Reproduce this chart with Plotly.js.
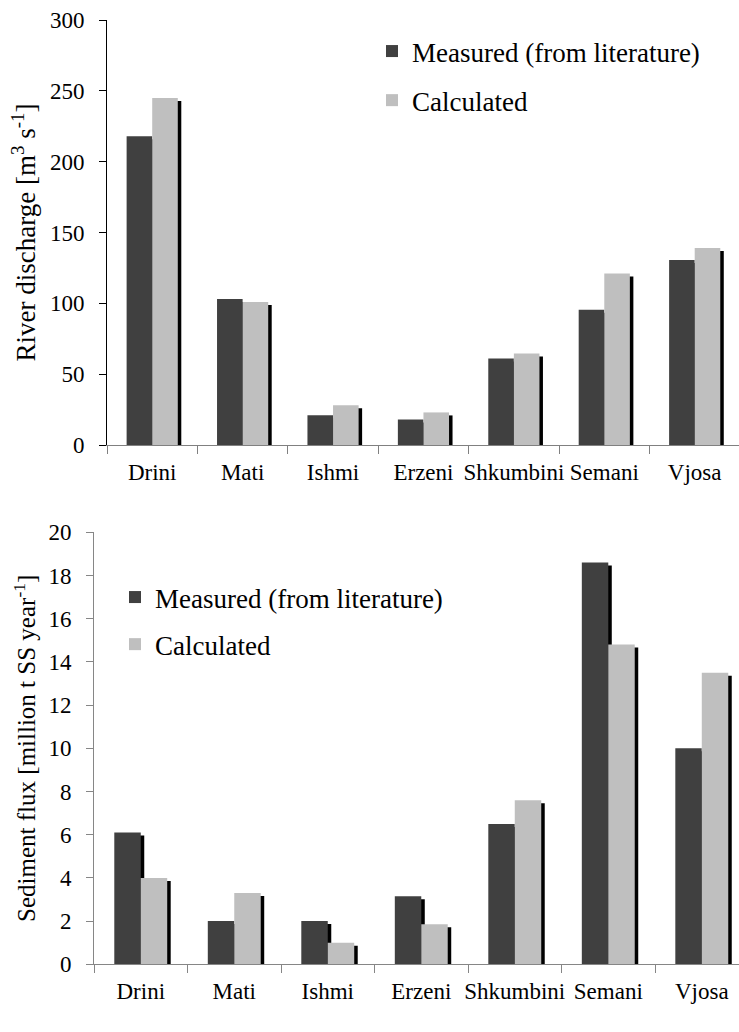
<!DOCTYPE html>
<html>
<head>
<meta charset="utf-8">
<script src="https://cdn.plot.ly/plotly-3.0.1.min.js"></script>
<style>
  html, body { margin: 0; padding: 0; background: #ffffff; }
  #chart { width: 739px; height: 1032px; }
</style>
</head>
<body>
<div id="chart"></div>
<script>
// ---- data ----
const rivers = ["Drini", "Mati", "Ishmi", "Erzeni", "Shkumbini", "Semani", "Vjosa"];
const dischargeMeasured   = [218, 103, 21, 18, 61, 95.5, 130.5];
const dischargeCalculated = [245, 101, 28, 23, 64.5, 121, 139];
const sedimentMeasured    = [6.1, 2.0, 2.0, 3.15, 6.5, 18.6, 10.0];
const sedimentCalculated  = [4.0, 3.3, 1.0, 1.85, 7.6, 14.8, 13.5];
const seriesNames = ["Measured (from literature)", "Calculated"];

// ---- style / geometry ----
const W = 739, H = 1032;
const FONT = "Liberation Serif";
const DARK = "#404040", LIGHT = "#bfbfbf", SHADOW = "#000000";
const BW = 0.283;                 // bar width in category units
const panelTop = {x0: 107, y0: 20, y1: 445, range: [0, 300], xr: [-0.5, 6.49]};
const panelBot = {x0: 94, y0: 532.3, y1: 964.3, range: [0, 20], xr: [-0.5, 6.398]};

function catPx(p) { return (W - p.x0) / (p.xr[1] - p.xr[0]); }
function valPerPx(p) { return (p.range[1] - p.range[0]) / (p.y1 - p.y0); }

function makeTraces(p, meas, calc, xa, ya, lg) {
  const dx = 3.5 / catPx(p);
  const dy = 3 * valPerPx(p);
  const sh = v => v.map(d => Math.max(0, d - dy));
  const common = {type: "bar", x: rivers, xaxis: xa, yaxis: ya, width: BW, hoverinfo: "skip"};
  return [
    Object.assign({}, common, {y: sh(meas), offset: -BW + dx, marker: {color: SHADOW}, showlegend: false}),
    Object.assign({}, common, {y: sh(calc), offset: dx, marker: {color: SHADOW}, showlegend: false}),
    Object.assign({}, common, {y: meas, offset: -BW, name: seriesNames[0], marker: {color: DARK},
                               legend: lg, legendgroup: lg + "m"}),
    Object.assign({}, common, {y: calc, offset: 0, name: seriesNames[1], marker: {color: LIGHT},
                               legend: lg, legendgroup: lg + "c"})
  ];
}

const data = [].concat(
  makeTraces(panelTop, dischargeMeasured, dischargeCalculated, "x", "y", "legend"),
  makeTraces(panelBot, sedimentMeasured, sedimentCalculated, "x2", "y2", "legend2")
);

const tickFont = {family: FONT, size: 23, color: "#000"};
function xAxis(p, lineColor, anchor) {
  return {
    domain: [p.x0 / W, 1], anchor: anchor, type: "category", range: p.xr,
    showline: true, linecolor: lineColor, linewidth: 1, zeroline: false,
    showgrid: false, ticks: "outside", tickson: "boundaries", ticklen: 8,
    tickcolor: lineColor, tickfont: tickFont, tickangle: 0, automargin: false, fixedrange: true,
    ticklabelstandoff: 6
  };
}
function yAxis(p, lineColor, dtick, title, titleSize, anchor, standoff) {
  return {
    domain: [1 - p.y1 / H, 1 - p.y0 / H], anchor: anchor, range: p.range, dtick: dtick,
    showline: true, linecolor: lineColor, linewidth: 1, zeroline: false,
    showgrid: false, ticks: "outside", ticklen: 7, tickcolor: lineColor,
    tickfont: tickFont, automargin: false, fixedrange: true, ticklabelstandoff: 10,
    title: {text: title, font: {family: FONT, size: titleSize, color: "#000"}, standoff: standoff}
  };
}

const legendFont = {family: FONT, size: 27, color: "#000"};
const layout = {
  width: W, height: H,
  margin: {l: 0, r: 0, t: 0, b: 0},
  paper_bgcolor: "#fff", plot_bgcolor: "#fff",
  barmode: "overlay",
  font: {family: FONT, color: "#000"},
  xaxis: xAxis(panelTop, "#808080", "y"),
  yaxis: yAxis(panelTop, "#000000", 50, "River discharge [m<sup>3</sup> s<sup>-1</sup>]", 27, "x", 6),
  xaxis2: xAxis(panelBot, "#868686", "y2"),
  yaxis2: yAxis(panelBot, "#868686", 2, "Sediment flux [million t SS year<sup>-1</sup>]", 25, "x2", 5),
  legend: {x: 372 / W, y: 1 - 27 / H, xanchor: "left", yanchor: "top", bgcolor: "rgba(0,0,0,0)",
           font: legendFont, traceorder: "grouped", tracegroupgap: 11, borderwidth: 0},
  legend2: {x: 115 / W, y: 1 - 573 / H, xanchor: "left", yanchor: "top", bgcolor: "rgba(0,0,0,0)",
            font: legendFont, traceorder: "grouped", tracegroupgap: 9, borderwidth: 0},
  showlegend: true
};

Plotly.newPlot("chart", data, layout, {displayModeBar: false, staticPlot: true});
</script>
</body>
</html>
